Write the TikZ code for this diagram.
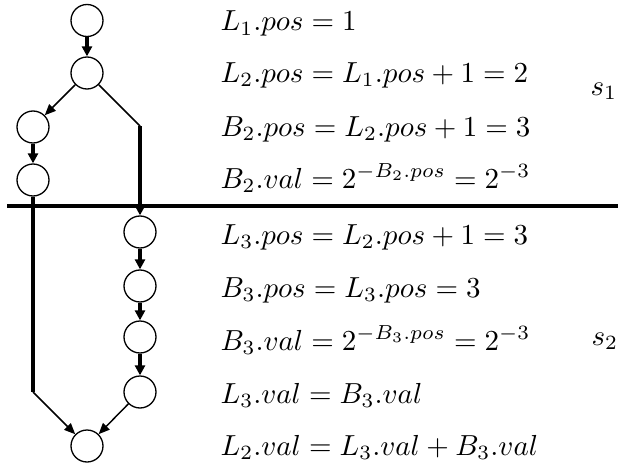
\documentclass[tikz,border=0pt]{standalone}
\usetikzlibrary{arrows.meta}
\begin{document}
\begin{tikzpicture}[x=0.345pt,y=-0.345pt,
  state/.style={circle,draw,line width=0.45pt,minimum size=11.04pt,inner sep=0pt},
  thickarr/.style={line width=1.38pt,-{Triangle[length=3.4pt,width=3.4pt]}},
  thinarr/.style={line width=0.5pt,-{Triangle[length=3.8pt,width=3.2pt]}},
  thickln/.style={line width=1.38pt},
  thinln/.style={line width=0.5pt},
  eq/.style={anchor=base west,inner sep=0pt}]
\useasboundingbox (0,0) rectangle (625,466);
% nodes
\node[state] (n1) at (87,20.5) {};
\node[state] (n2) at (87,73) {};
\node[state] (n3) at (33,127) {};
\node[state] (n4) at (33,180) {};
\node[state] (n5) at (140,232) {};
\node[state] (n6) at (140,286) {};
\node[state] (n7) at (140,337) {};
\node[state] (n8) at (140,392) {};
\node[state] (n9) at (87,446) {};
\coordinate (c1) at (140,126);
\coordinate (c2) at (33,392);
\coordinate (hl) at (7,206);
\coordinate (hr) at (618,206);
% separator
\draw[thickln] (hl) -- (hr);
% connectors
\draw[thickarr] (n1) -- (n2);
\draw[thinarr] (n2) -- (n3);
\draw[thinln] (n2) -- (c1);
\draw[thickarr] (c1) -- (n5);
\draw[thickarr] (n3) -- (n4);
\draw[thickln] (n4) -- (c2);
\draw[thinarr] (c2) -- (n9);
\draw[thickarr] (n5) -- (n6);
\draw[thickarr] (n6) -- (n7);
\draw[thickarr] (n7) -- (n8);
\draw[thinarr] (n8) -- (n9);
% equations
\node[eq] (e1) at (220,31) {$L_1.pos = 1$};
\node[eq] (e2) at (220,82) {$L_2.pos = L_1.pos + 1 = 2$};
\node[eq] (e3) at (220,136) {$B_2.pos = L_2.pos + 1 = 3$};
\node[eq] (e4) at (220,188) {$B_2.val = 2^{-B_2.pos} = 2^{-3}$};
\node[eq] (e5) at (220,244) {$L_3.pos = L_2.pos + 1 = 3$};
\node[eq] (e6) at (220,297) {$B_3.pos = L_3.pos = 3$};
\node[eq] (e7) at (220,350) {$B_3.val = 2^{-B_3.pos} = 2^{-3}$};
\node[eq] (e8) at (220,403) {$L_3.val = B_3.val$};
\node[eq] (e9) at (220,455) {$L_2.val = L_3.val + B_3.val$};
\node[eq] (s1) at (590,95) {$s_1$};
\node[eq] (s2) at (591,345) {$s_2$};
\end{tikzpicture}
\end{document}
